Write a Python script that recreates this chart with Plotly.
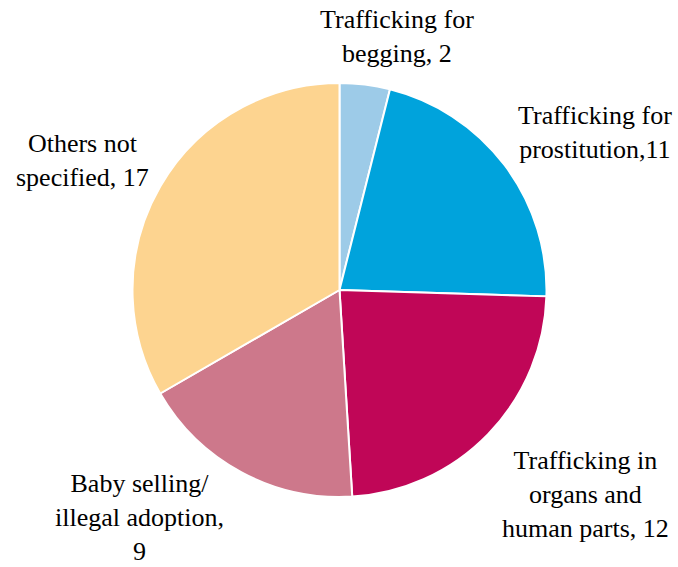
import plotly.graph_objects as go

W, H = 678, 567

categories = ["Trafficking for begging", "Trafficking for prostitution",
              "Trafficking in organs and human parts", "Baby selling/ illegal adoption",
              "Others not specified"]
values = [2, 11, 12, 9, 17]
label_texts = ["Trafficking for<br>begging, 2", "Trafficking for<br>prostitution,11",
               "Trafficking in<br>organs and<br>human parts, 12",
               "Baby selling/<br>illegal adoption,<br>9", "Others not<br>specified, 17"]
colors = ["#9DCBE8", "#00A3DC", "#C00657", "#CD788B", "#FDD490"]

# label centre positions in pixels (x, y from top)
label_px = [(397, 37), (595, 132), (585, 494), (139, 517), (82, 160)]

cx, cy, r = 339.5, 290, 207

fig = go.Figure(go.Pie(
    labels=categories, values=values, sort=False, direction="clockwise", rotation=0,
    marker=dict(colors=colors, line=dict(color="white", width=2)),
    textinfo="none", hoverinfo="label+value", showlegend=False,
    domain=dict(x=[(cx - r) / W, (cx + r) / W], y=[1 - (cy + r) / H, 1 - (cy - r) / H]),
))

for t, (px, py) in zip(label_texts, label_px):
    fig.add_annotation(x=px / W, y=1 - py / H, xref="paper", yref="paper",
                       text=t, showarrow=False, xanchor="center", yanchor="middle",
                       align="center",
                       font=dict(family="Times New Roman, Liberation Serif, serif", size=26, color="black"))

fig.update_layout(width=W, height=H, margin=dict(l=0, r=0, t=0, b=0),
                  paper_bgcolor="white", plot_bgcolor="white")

fig.write_html("out.html", config={"displayModeBar": False},
               post_script="document.body.style.margin='0';")
